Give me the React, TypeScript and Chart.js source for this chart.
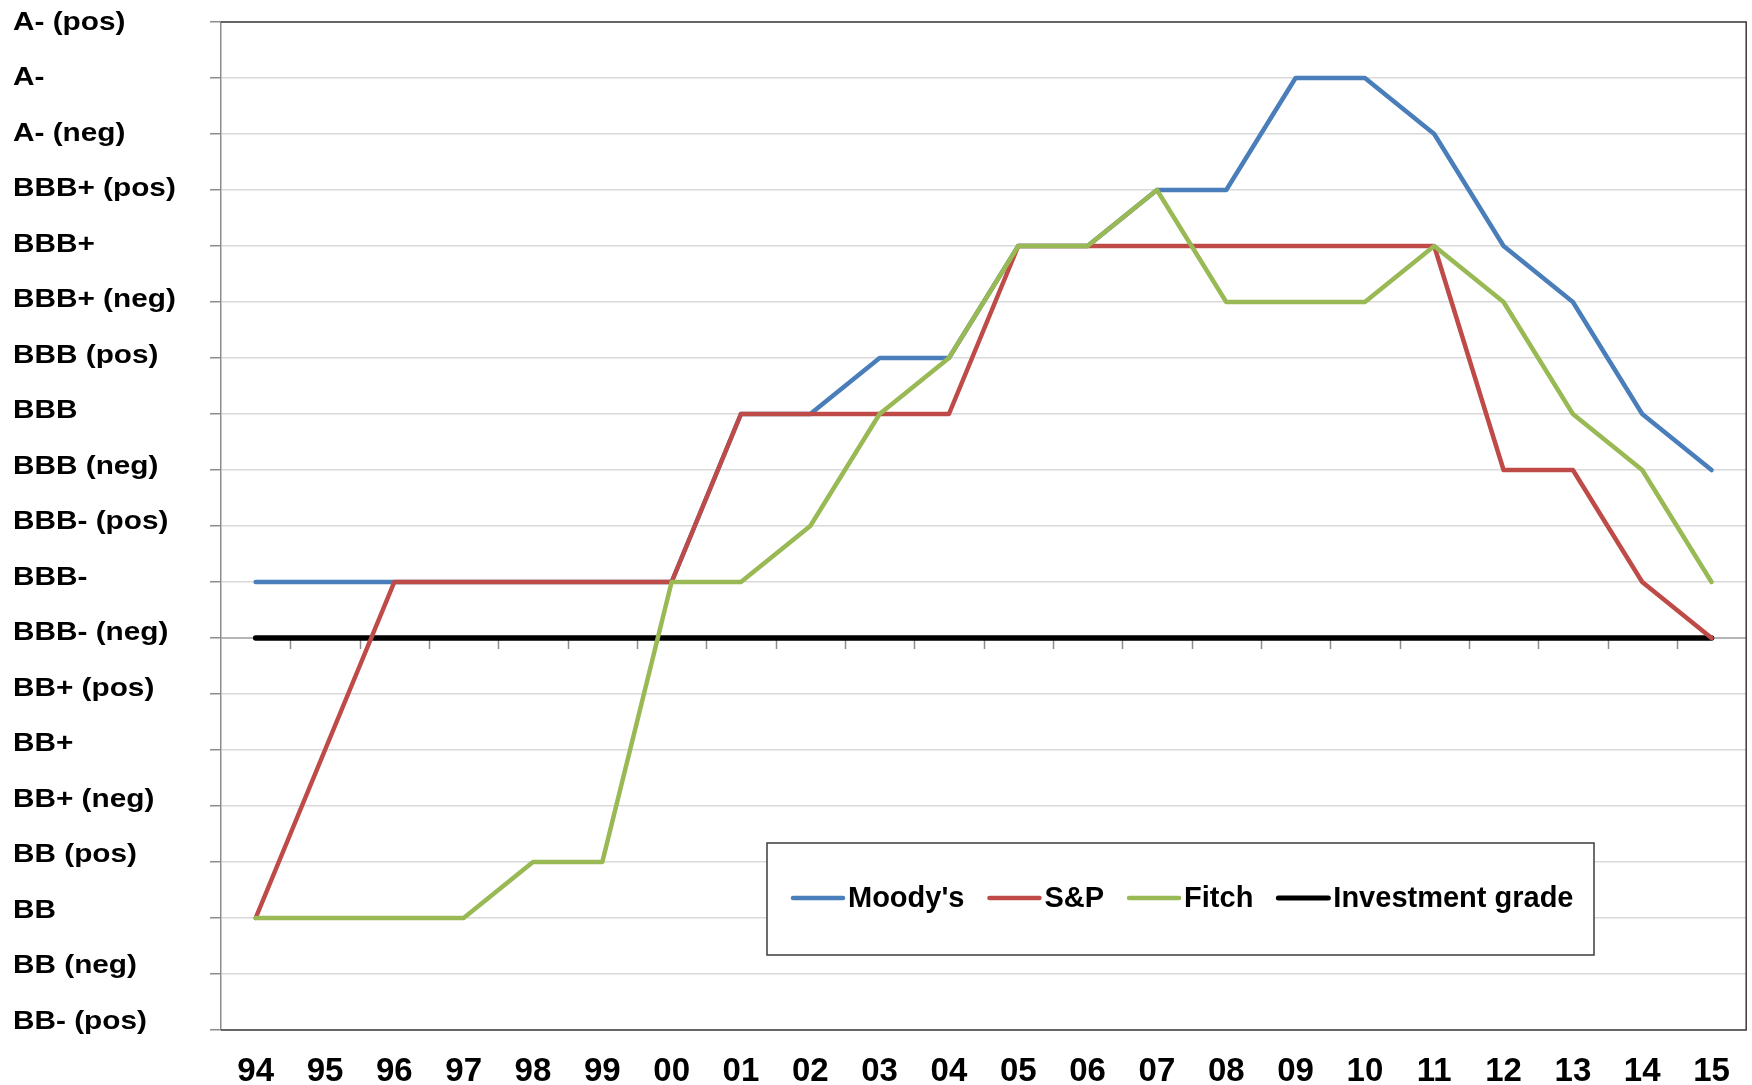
import React, { useEffect, useRef } from "react";
import { Chart, registerables } from "chart.js";

Chart.register(...registerables);

const years = ["94","95","96","97","98","99","00","01","02","03","04","05","06","07","08","09","10","11","12","13","14","15"];

const ratingLabels = [
  "BB- (pos)", "BB (neg)", "BB", "BB (pos)", "BB+ (neg)", "BB+", "BB+ (pos)",
  "BBB- (neg)", "BBB-", "BBB- (pos)", "BBB (neg)", "BBB", "BBB (pos)",
  "BBB+ (neg)", "BBB+", "BBB+ (pos)", "A- (neg)", "A-", "A- (pos)",
];

const moodys = [8,8,8,8,8,8,8,11,11,12,12,14,14,15,15,17,17,16,14,13,11,10];
const sp     = [2,5,8,8,8,8,8,11,11,11,11,14,14,14,14,14,14,14,10,10,8,7];
const fitch  = [2,2,2,2,3,3,8,8,9,11,12,14,14,15,13,13,13,14,13,11,10,8];
const investmentGrade = [7,7,7,7,7,7,7,7,7,7,7,7,7,7,7,7,7,7,7,7,7,7];
const investmentGradeLevel = 7;

const seriesNames = ["Moody's", "S&P", "Fitch", "Investment grade"];
const seriesColors = ["#4A7EBB", "#BE4B48", "#98B954", "#000000"];

const FONT = "'Liberation Sans', Arial, sans-serif";

const decorPlugin = {
  id: "decor",
  beforeDatasetsDraw(chart: any) {
    const { ctx, chartArea, scales } = chart;
    const y = scales.y.getPixelForValue(investmentGradeLevel);
    ctx.save();
    ctx.strokeStyle = "#a6a6a6";
    ctx.lineWidth = 1.5;
    ctx.beginPath();
    ctx.moveTo(chartArea.left, y);
    ctx.lineTo(chartArea.right, y);
    ctx.stroke();
    const n = years.length;
    const band = (chartArea.right - chartArea.left) / n;
    ctx.strokeStyle = "#8c8c8c";
    for (let k = 1; k < n; k++) {
      const x = Math.round(chartArea.left + band * k) + 0.5;
      ctx.beginPath();
      ctx.moveTo(x, y);
      ctx.lineTo(x, y + 11);
      ctx.stroke();
    }
    ctx.restore();
  },
  afterDatasetsDraw(chart: any) {
    const { ctx, chartArea, scales } = chart;
    ctx.save();
    ctx.strokeStyle = "#3c3c3c";
    ctx.lineWidth = 1.5;
    ctx.beginPath();
    ctx.moveTo(chartArea.left, chartArea.top);
    ctx.lineTo(chartArea.right, chartArea.top);
    ctx.lineTo(chartArea.right, chartArea.bottom);
    ctx.lineTo(chartArea.left, chartArea.bottom);
    ctx.stroke();

    ctx.fillStyle = "#000";
    ctx.font = `bold 25px ${FONT}`;
    ctx.textAlign = "left";
    ctx.textBaseline = "middle";
    const maxV = ratingLabels.length - 1;
    ratingLabels.forEach((lab, v) => {
      const py = scales.y.getPixelForValue(v) + 1 - 0.5 * (maxV - v);
      ctx.save();
      ctx.translate(13, py);
      ctx.scale(1.19, 1);
      ctx.fillText(lab, 0, 0);
      ctx.restore();
    });

    const bx = 767, by = 843, bw = 827, bh = 112;
    ctx.fillStyle = "#ffffff";
    ctx.fillRect(bx, by, bw, bh);
    ctx.strokeStyle = "#3c3c3c";
    ctx.lineWidth = 1.5;
    ctx.strokeRect(bx, by, bw, bh);
    ctx.font = `bold 29px ${FONT}`;
    ctx.textBaseline = "middle";
    let x = 793;
    const cy = 898;
    seriesNames.forEach((name, i) => {
      ctx.strokeStyle = seriesColors[i];
      ctx.lineWidth = i === 3 ? 5 : 4.5;
      ctx.lineCap = "round";
      ctx.beginPath();
      ctx.moveTo(x, cy);
      ctx.lineTo(x + 50, cy);
      ctx.stroke();
      x += 55;
      ctx.fillStyle = "#000";
      ctx.fillText(name, x, cy + 1);
      x += ctx.measureText(name).width + 25;
    });
    ctx.restore();
  },
};

export default function App() {
  const ref = useRef<HTMLCanvasElement | null>(null);

  useEffect(() => {
    if (!ref.current) return;
    const data = [moodys, sp, fitch, investmentGrade];
    const orders = [3, 2, 1, 4];
    const chart = new Chart(ref.current, {
      type: "line",
      data: {
        labels: years,
        datasets: data.map((d, i) => ({
          label: seriesNames[i],
          data: d,
          borderColor: seriesColors[i],
          backgroundColor: seriesColors[i],
          borderWidth: i === 3 ? 5.5 : 4.5,
          pointRadius: 0,
          pointHoverRadius: 0,
          borderCapStyle: "round" as const,
          borderJoinStyle: "round" as const,
          tension: 0,
          fill: false,
          order: orders[i],
        })),
      },
      options: {
        animation: false,
        responsive: false,
        maintainAspectRatio: false,
        events: [],
        layout: { padding: { top: 22, right: 5, left: 0, bottom: 0 } },
        plugins: {
          legend: { display: false },
          tooltip: { enabled: false },
          title: { display: false },
        },
        scales: {
          x: {
            type: "category",
            offset: true,
            grid: { display: false, drawTicks: false },
            border: { display: false },
            ticks: {
              color: "#000",
              font: { family: FONT, size: 33, weight: "bold" },
              padding: 22,
              maxRotation: 0,
              autoSkip: false,
            },
            afterFit(scale: any) {
              scale.height = 55;
            },
          },
          y: {
            type: "linear",
            min: 0,
            max: ratingLabels.length - 1,
            ticks: { display: false, stepSize: 1 },
            grid: {
              color: "#d9d9d9",
              lineWidth: 1.5,
              tickColor: "#8c8c8c",
              tickLength: 11,
              drawTicks: true,
            },
            border: { display: true, color: "#8c8c8c", width: 1.5 },
            afterFit(scale: any) {
              scale.width = 221;
            },
          },
        },
      },
      plugins: [decorPlugin],
    });
    return () => chart.destroy();
  }, []);

  return (
    <div style={{ position: "fixed", left: 0, top: 0, width: 1752, height: 1085, background: "#fff" }}>
      <canvas ref={ref} width={1752} height={1085} style={{ width: 1752, height: 1085, display: "block" }} />
    </div>
  );
}
